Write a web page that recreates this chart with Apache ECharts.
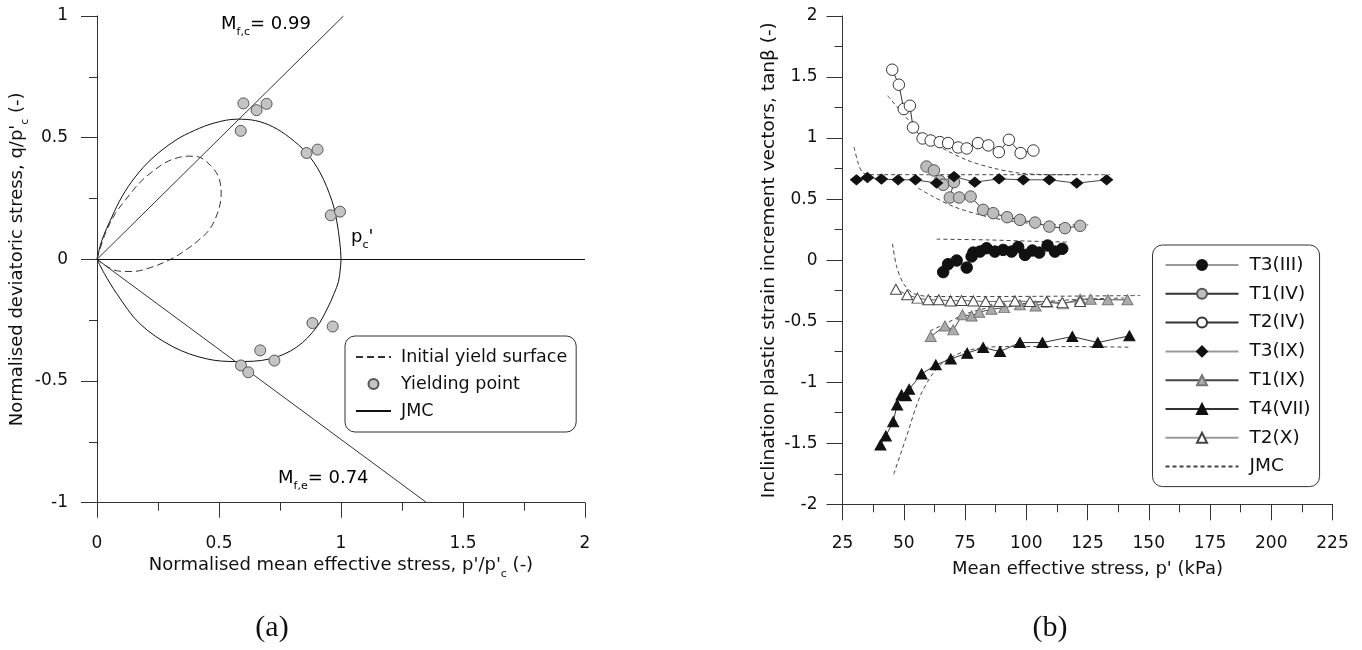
<!DOCTYPE html>
<html>
<head>
<meta charset="utf-8">
<script src="https://cdn.jsdelivr.net/npm/echarts@6/dist/echarts.min.js"></script>
<style>
  html, body { margin: 0; padding: 0; background: #fff; }
  #chart { width: 1362px; height: 650px; }
</style>
</head>
<body>
<div id="chart"></div>
<script>
// ---------- (a) normalised q/p'c vs p'/p'c ----------
const aTicksX = [0, 0.5, 1, 1.5, 2];
const aTicksY = [-1, -0.5, 0, 0.5, 1];
const Mfc = 0.99;   // critical state slope, compression
const Mfe = 0.74;   // critical state slope, extension

// JMC yield surface (p'/p'c, q/p'c)
const jmcSurface = [
  [0, 0], [0.02, 0.078], [0.061, 0.174], [0.102, 0.257], [0.157, 0.339],
  [0.225, 0.414], [0.32, 0.488], [0.40, 0.530], [0.48, 0.560], [0.572, 0.576],
  [0.65, 0.570], [0.72, 0.545], [0.79, 0.500], [0.859, 0.437], [0.915, 0.355],
  [0.962, 0.243], [0.982, 0.161], [0.995, 0.07], [1.0, 0.0], [0.997, -0.04],
  [0.99, -0.09], [0.972, -0.14], [0.945, -0.2], [0.9, -0.279], [0.818, -0.361],
  [0.709, -0.409], [0.572, -0.42], [0.45, -0.409], [0.313, -0.36], [0.176, -0.265],
  [0.081, -0.141], [0.03, -0.058], [0, 0]
];

// Initial yield surface
const initialSurface = [
  [0, 0], [0.034, 0.106], [0.075, 0.188], [0.116, 0.243], [0.171, 0.311],
  [0.225, 0.359], [0.293, 0.404], [0.375, 0.424], [0.416, 0.421], [0.464, 0.387],
  [0.498, 0.339], [0.509, 0.270], [0.498, 0.202], [0.464, 0.127], [0.416, 0.078],
  [0.362, 0.037], [0.307, 0.003], [0.225, -0.032], [0.143, -0.05], [0.088, -0.048],
  [0.046, -0.032], [0, 0]
];

// Yielding points
const yieldPoints = [
  [0.600, 0.641], [0.654, 0.613], [0.695, 0.639], [0.589, 0.528],
  [0.859, 0.437], [0.904, 0.451], [0.958, 0.181], [0.996, 0.196],
  [0.883, -0.262], [0.966, -0.276], [0.669, -0.374], [0.727, -0.416],
  [0.590, -0.436], [0.620, -0.464]
];

// ---------- (b) tanβ vs p' (kPa) ----------
const bTicksX = [25, 50, 75, 100, 125, 150, 175, 200, 225];
const bTicksY = [-2, -1.5, -1, -0.5, 0, 0.5, 1, 1.5, 2];

const t3III = [
  [66.1, -0.098], [68.1, -0.033], [71.6, -0.003], [75.7, -0.061], [77.7, 0.030],
  [78.4, 0.062], [81.1, 0.070], [83.8, 0.098], [87.2, 0.070], [90.6, 0.084],
  [94.0, 0.070], [96.7, 0.107], [99.5, 0.043], [102.5, 0.079], [105.3, 0.062],
  [108.7, 0.120], [111.7, 0.070], [114.7, 0.093]
];
const t1IV = [
  [59.3, 0.767], [62.3, 0.735], [64.7, 0.650], [66.1, 0.617], [70.5, 0.639],
  [68.8, 0.513], [72.6, 0.513], [77.3, 0.521], [82.4, 0.412], [86.5, 0.385],
  [92.2, 0.352], [97.4, 0.330], [103.6, 0.308], [109.4, 0.275], [115.8, 0.262],
  [122.0, 0.281]
];
const t2IV = [
  [45.3, 1.56], [48.0, 1.437], [50.0, 1.238], [52.5, 1.265], [53.8, 1.087],
  [57.7, 0.997], [61.0, 0.98], [64.7, 0.967], [68.1, 0.959], [72.2, 0.923],
  [75.7, 0.915], [80.3, 0.959], [84.5, 0.94], [88.8, 0.885], [92.9, 0.986],
  [97.7, 0.877], [102.9, 0.898]
];
const t3IX = [
  [30.7, 0.658], [35.2, 0.677], [40.9, 0.664], [47.7, 0.658], [54.8, 0.658],
  [63.4, 0.631], [70.5, 0.685], [79.0, 0.639], [88.9, 0.666], [98.8, 0.658],
  [109.4, 0.658], [120.6, 0.631], [132.8, 0.658]
];
const t1IX = [
  [61.0, -0.626], [66.8, -0.539], [70.2, -0.571], [74.0, -0.448], [77.7, -0.457],
  [80.8, -0.426], [85.8, -0.402], [91.0, -0.389], [97.4, -0.366], [103.8, -0.375],
  [108.6, -0.344], [115.1, -0.358], [122.0, -0.320], [126.3, -0.320], [133.3, -0.325],
  [141.3, -0.325]
];
const t4VII = [
  [40.5, -1.514], [42.7, -1.440], [45.7, -1.323], [47.3, -1.186], [49.1, -1.104],
  [50.9, -1.112], [52.2, -1.058], [57.3, -0.932], [63.1, -0.858], [69.2, -0.809],
  [75.9, -0.762], [82.4, -0.716], [89.3, -0.749], [97.4, -0.675], [106.6, -0.675],
  [118.8, -0.626], [129.2, -0.675], [142.1, -0.620]
];
const t2X = [
  [46.8, -0.238], [51.4, -0.284], [55.6, -0.311], [60.0, -0.325], [64.3, -0.325],
  [69.1, -0.334], [73.6, -0.331], [78.4, -0.334], [83.4, -0.339], [89.0, -0.339],
  [95.4, -0.334], [101.5, -0.339], [108.3, -0.339], [114.7, -0.348], [122.0, -0.339]
];

// JMC predictions, one curve per test
const jmcT2IV = [[43.4, 1.347], [47.1, 1.26], [51.8, 1.15], [56.6, 1.04], [64.7, 0.93], [75.7, 0.82], [86.5, 0.754], [97.4, 0.713], [111, 0.70], [120, 0.70]];
const jmcT3IX = [[29.7, 0.926], [31.4, 0.795], [33.2, 0.718], [36, 0.70], [60, 0.70], [100, 0.70], [134.2, 0.70]];
const jmcT1IV = [[55.9, 0.59], [62, 0.52], [70.2, 0.44], [81.1, 0.371], [92, 0.325], [104.2, 0.298], [115.1, 0.289], [125.3, 0.289]];
const jmcT3III = [[63.4, 0.172], [83.8, 0.166], [97.4, 0.158], [116.5, 0.148]];
const jmcT2X = [[45.4, 0.134], [47.1, -0.052], [49.8, -0.189], [53.8, -0.27], [60.7, -0.298], [83.8, -0.298], [146.5, -0.29]];
const jmcT1IX = [[60.7, -0.58], [67.5, -0.516], [74.3, -0.448], [83.8, -0.393], [97.4, -0.358], [117.8, -0.325], [140, -0.31]];
const jmcT4VII = [[45.9, -1.754], [51.1, -1.446], [56.6, -1.118], [62, -0.926], [67.5, -0.817], [77, -0.735], [90.6, -0.708], [117.8, -0.708], [142.4, -0.713]];
const jmcCurves = [jmcT2IV, jmcT3IX, jmcT1IV, jmcT3III, jmcT2X, jmcT1IX, jmcT4VII];

// ---------- styling ----------
const FONT = "'DejaVu Sans', Verdana, sans-serif";
const INK = '#111';
const AXIS = '#333';

function valueAxis(ticks, gridIndex, opts) {
  const step = ticks[1] - ticks[0];
  return Object.assign({
    type: 'value',
    gridIndex: gridIndex,
    min: ticks[0],
    max: ticks[ticks.length - 1],
    interval: step,
    axisLine: { show: true, onZero: false, lineStyle: { color: AXIS, width: 1 } },
    axisTick: { show: true, inside: false, length: 15, lineStyle: { color: AXIS, width: 1 } },
    minorTick: { show: true, splitNumber: 2, length: 8, lineStyle: { color: AXIS, width: 1 } },
    splitLine: { show: false },
    minorSplitLine: { show: false },
    axisLabel: { color: INK, fontFamily: FONT, fontSize: 17 },
    nameLocation: 'middle',
    nameTextStyle: { color: INK, fontFamily: FONT, fontSize: 18 }
  }, opts);
}

const subRich = {
  n: { fontFamily: FONT, fontSize: 18, color: INK, lineHeight: 24, verticalAlign: 'top' },
  s: { fontFamily: FONT, fontSize: 11, color: INK, lineHeight: 11, padding: [12, 0, 0, 0], verticalAlign: 'top' }
};

const lineCommon = { type: 'line', animation: false, silent: true };

function testSeries(name, data, symbol, size, fill, stroke, lineColor) {
  return Object.assign({}, lineCommon, {
    name: name,
    xAxisIndex: 1, yAxisIndex: 1,
    data: data,
    symbol: symbol,
    symbolSize: size,
    showSymbol: true,
    itemStyle: { color: fill, borderColor: stroke, borderWidth: 1, opacity: 1 },
    lineStyle: { color: lineColor, width: 1 },
    z: 3
  });
}

const series = [
  // (a)
  Object.assign({}, lineCommon, {
    name: 'JMC', xAxisIndex: 0, yAxisIndex: 0, data: jmcSurface,
    symbol: 'none', smooth: 0.35,
    lineStyle: { color: '#111', width: 1 },
    markLine: {
      silent: true, symbol: 'none', label: { show: false },
      lineStyle: { color: '#111', type: 'solid', width: 1 },
      data: [{ yAxis: 0 }]
    }
  }),
  Object.assign({}, lineCommon, {
    name: 'JMC', xAxisIndex: 0, yAxisIndex: 0,
    data: [[0, 0], [1 / Mfc, 1]], symbol: 'none',
    lineStyle: { color: '#333', width: 1 }
  }),
  Object.assign({}, lineCommon, {
    name: 'JMC', xAxisIndex: 0, yAxisIndex: 0,
    data: [[0, 0], [1 / Mfe, -1]], symbol: 'none',
    lineStyle: { color: '#333', width: 1 }
  }),
  Object.assign({}, lineCommon, {
    name: 'Initial yield surface', xAxisIndex: 0, yAxisIndex: 0, data: initialSurface,
    symbol: 'none', smooth: 0.35,
    lineStyle: { color: '#333', width: 1, type: [7, 4] }
  }),
  {
    type: 'scatter', name: 'Yielding point', xAxisIndex: 0, yAxisIndex: 0,
    data: yieldPoints, symbol: 'circle', symbolSize: 11, animation: false, silent: true,
    itemStyle: { color: '#c4c4c4', borderColor: '#555', borderWidth: 1, opacity: 1 },
    z: 4
  },
  // (b)
  testSeries('T3(III)', t3III, 'circle', 11.5, '#111', '#111', '#444'),
  testSeries('T1(IV)', t1IV, 'circle', 11.5, '#bdbdbd', '#555', '#333'),
  testSeries('T2(IV)', t2IV, 'circle', 11.5, '#fff', '#333', '#333'),
  testSeries('T3(IX)', t3IX, 'diamond', [12, 10], '#111', '#111', '#444'),
  testSeries('T1(IX)', t1IX, 'triangle', [11, 10], '#ababab', '#777', '#444'),
  testSeries('T4(VII)', t4VII, 'triangle', [11, 10], '#111', '#111', '#333'),
  testSeries('T2(X)', t2X, 'triangle', [11, 10], '#fff', '#444', '#666')
];
jmcCurves.forEach(function (c) {
  series.push(Object.assign({}, lineCommon, {
    name: 'JMC ', xAxisIndex: 1, yAxisIndex: 1, data: c,
    symbol: 'none', smooth: 0.3,
    lineStyle: { color: '#444', width: 1, type: [4, 3] },
    z: 2
  }));
});

const option = {
  backgroundColor: '#fff',
  animation: false,
  grid: [
    { left: 97, top: 16, width: 488, height: 486.7, containLabel: false },
    { left: 842.5, top: 16, width: 490, height: 488.3, containLabel: false }
  ],
  xAxis: [
    valueAxis(aTicksX, 0, {
      axisLabel: { color: INK, fontFamily: FONT, fontSize: 17, margin: 32 },
      name: "{n|Normalised mean effective stress, p'/p'}{s|c}{n| (-)}",
      nameGap: 53,
      nameTextStyle: { rich: subRich }
    }),
    valueAxis(bTicksX, 1, {
      axisTick: { show: true, length: 16, lineStyle: { color: AXIS, width: 1 } },
      axisLabel: { color: INK, fontFamily: FONT, fontSize: 17, margin: 31 },
      name: "Mean effective stress, p' (kPa)",
      nameGap: 56
    })
  ],
  yAxis: [
    valueAxis(aTicksY, 0, {
      axisTick: { show: true, length: 16, lineStyle: { color: AXIS, width: 1 } },
      axisLabel: { color: INK, fontFamily: FONT, fontSize: 17, margin: 29 },
      name: "{n|Normalised deviatoric stress, q/p'}{s|c}{n| (-)}",
      nameRotate: 90,
      nameGap: 64,
      nameTextStyle: { rich: subRich }
    }),
    valueAxis(bTicksY, 1, {
      axisTick: { show: true, length: 16, lineStyle: { color: AXIS, width: 1 } },
      axisLabel: { color: INK, fontFamily: FONT, fontSize: 17, margin: 25 },
      name: 'Inclination plastic strain increment vectors, tanβ (-)',
      nameRotate: 90,
      nameGap: 64,
      nameTextStyle: { color: INK, fontFamily: FONT, fontSize: 18.5 }
    })
  ],
  legend: [
    {
      orient: 'vertical', left: 345, top: 336,
      itemWidth: 35, itemHeight: 10, itemGap: 7,
      padding: [11, 9, 11, 10],
      borderColor: '#333', borderWidth: 1, borderRadius: 10,
      selectedMode: false,
      textStyle: { color: INK, fontFamily: FONT, fontSize: 17.5, lineHeight: 20, padding: [0, 0, 0, 5] },
      data: [
        { name: 'Initial yield surface', itemStyle: { opacity: 0 } },
        'Yielding point',
        { name: 'JMC', itemStyle: { opacity: 0 } }
      ]
    },
    {
      orient: 'vertical', left: 1152.5, top: 245,
      itemWidth: 73, itemHeight: 12.5, itemGap: 8.8,
      padding: [10, 9, 10, 12],
      borderColor: '#333', borderWidth: 1, borderRadius: 10,
      selectedMode: false,
      textStyle: { color: INK, fontFamily: FONT, fontSize: 18.5, lineHeight: 20, padding: [0, 0, 0, 6] },
      data: [
        { name: 'T3(III)', lineStyle: { color: '#999' } },
        'T1(IV)',
        'T2(IV)',
        { name: 'T3(IX)', lineStyle: { color: '#999' } },
        'T1(IX)',
        'T4(VII)',
        { name: 'T2(X)', lineStyle: { color: '#999' } },
        { name: 'JMC ', itemStyle: { opacity: 0 } }
      ]
    }
  ],
  graphic: [
    {
      type: 'text', left: 221, top: 15, silent: true,
      style: { text: '{n|M}{s|f,c}{n|= 0.99}', rich: subRich }
    },
    {
      type: 'text', left: 278, top: 469, silent: true,
      style: { text: '{n|M}{s|f,e}{n|= 0.74}', rich: subRich }
    },
    {
      type: 'text', left: 351, top: 228, silent: true,
      style: { text: "{n|p}{s|c}{n|'}", rich: subRich }
    },
    {
      type: 'text', x: 272, y: 628, silent: true,
      style: { text: '(a)', fill: INK, font: "30px 'Liberation Serif', 'Times New Roman', serif", align: 'center', verticalAlign: 'middle' }
    },
    {
      type: 'text', x: 1050, y: 628, silent: true,
      style: { text: '(b)', fill: INK, font: "30px 'Liberation Serif', 'Times New Roman', serif", align: 'center', verticalAlign: 'middle' }
    }
  ],
  series: series
};

const chart = echarts.init(document.getElementById('chart'));
chart.setOption(option);
</script>
</body>
</html>
